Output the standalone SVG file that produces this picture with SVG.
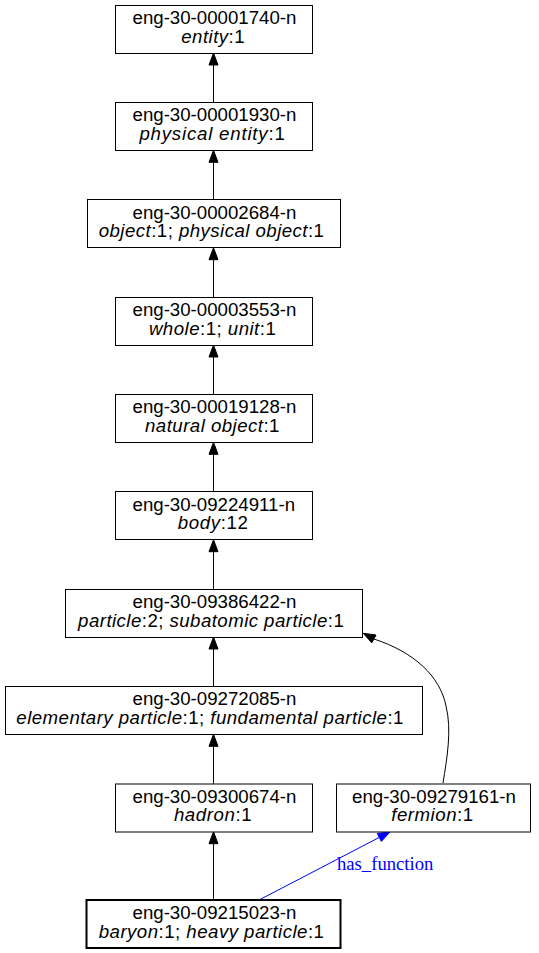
<svg xmlns="http://www.w3.org/2000/svg" width="539" height="953" viewBox="0 0 539 953">
<style>
.box{fill:#fff;stroke:#000;stroke-width:1}
.bold{stroke-width:2}
text{font-family:"Liberation Sans",Arial,sans-serif;font-size:18.67px;fill:#000}
.i{font-style:italic}
.e{stroke:#000;stroke-width:1;fill:none}
.ah{fill:#000;stroke:#000;stroke-width:1}
.blue{stroke:#0000ff}
.bah{fill:#0000ff;stroke:#0000ff;stroke-width:1}
.lbl{font-family:"Liberation Serif","Times New Roman",serif;fill:#0000ff}
</style>
<rect width="539" height="953" fill="#fff"/>
<g id="connectors">
<path class="e" d="M213.5,102.3V65"/><polygon class="ah" points="213.5,53 209,65 218,65"/>
<path class="e" d="M213.5,199.7V162.3"/><polygon class="ah" points="213.5,150.3 209,162.3 218,162.3"/>
<path class="e" d="M213.5,297V259.7"/><polygon class="ah" points="213.5,247.7 209,259.7 218,259.7"/>
<path class="e" d="M213.5,394.3V357"/><polygon class="ah" points="213.5,345 209,357 218,357"/>
<path class="e" d="M213.5,491.7V454.3"/><polygon class="ah" points="213.5,442.3 209,454.3 218,454.3"/>
<path class="e" d="M213.5,589V551.7"/><polygon class="ah" points="213.5,539.7 209,551.7 218,551.7"/>
<path class="e" d="M213.5,686.3V649"/><polygon class="ah" points="213.5,637 209,649 218,649"/>
<path class="e" d="M213.5,783.7V746.3"/><polygon class="ah" points="213.5,734.3 209,746.3 218,746.3"/>
<path class="e" d="M213.5,900V843.7"/><polygon class="ah" points="213.5,831.7 209,843.7 218,843.7"/>
<path class="e" d="M443,783 C447,758 452,730 446,706 C440,676 414,652 373.9,639"/><polygon class="ah" points="363.3,633.3 376,635 371.8,642.9"/>
<path class="e blue" d="M259,900 L379.3,837.4"/><polygon class="bah" points="390,832 381.3,841.4 377.3,833.4"/>
<text class="lbl" x="337" y="870">has_function</text>
</g>
<g id="n00001740">
<rect class="box" x="115.5" y="5.5" width="197" height="48"/>
<text x="132.5" y="24">eng-30-00001740-n</text>
<text x="181.2" y="42.5" textLength="63.4" lengthAdjust="spacing"><tspan class="i">entity</tspan>:1</text>
</g>
<g id="n00001930">
<rect class="box" x="115.5" y="102.5" width="197" height="48"/>
<text x="132.5" y="121.3">eng-30-00001930-n</text>
<text x="139.4" y="139.8" textLength="145.4" lengthAdjust="spacing"><tspan class="i">physical entity</tspan>:1</text>
</g>
<g id="n00002684">
<rect class="box" x="87.5" y="199.5" width="253" height="48"/>
<text x="132.5" y="218.7">eng-30-00002684-n</text>
<text x="98.7" y="237.2" textLength="225.3" lengthAdjust="spacing"><tspan class="i">object</tspan>:1; <tspan class="i">physical object</tspan>:1</text>
</g>
<g id="n00003553">
<rect class="box" x="115.5" y="297.5" width="197" height="48"/>
<text x="132.5" y="316">eng-30-00003553-n</text>
<text x="148.9" y="334.5" textLength="126.9" lengthAdjust="spacing"><tspan class="i">whole</tspan>:1; <tspan class="i">unit</tspan>:1</text>
</g>
<g id="n00019128">
<rect class="box" x="115.5" y="394.5" width="197" height="48"/>
<text x="132.5" y="413.3">eng-30-00019128-n</text>
<text x="145" y="431.8" textLength="134.5" lengthAdjust="spacing"><tspan class="i">natural object</tspan>:1</text>
</g>
<g id="n09224911">
<rect class="box" x="115.5" y="491.5" width="197" height="48"/>
<text x="132.5" y="510.7">eng-30-09224911-n</text>
<text x="177.8" y="529.2" textLength="70" lengthAdjust="spacing"><tspan class="i">body</tspan>:12</text>
</g>
<g id="n09386422">
<rect class="box" x="65.5" y="589.5" width="297" height="48"/>
<text x="132.5" y="608">eng-30-09386422-n</text>
<text x="78.1" y="626.5" textLength="265.7" lengthAdjust="spacing"><tspan class="i">particle</tspan>:2; <tspan class="i">subatomic particle</tspan>:1</text>
</g>
<g id="n09272085">
<rect class="box" x="5.5" y="686.5" width="417" height="48"/>
<text x="132.5" y="705.3">eng-30-09272085-n</text>
<text x="16.3" y="723.8" textLength="387.1" lengthAdjust="spacing"><tspan class="i">elementary particle</tspan>:1; <tspan class="i">fundamental particle</tspan>:1</text>
</g>
<g id="n09300674">
<rect class="box" x="115.5" y="784" width="197" height="48"/>
<text x="132.5" y="802.7">eng-30-09300674-n</text>
<text x="173.9" y="821.2" textLength="77.7" lengthAdjust="spacing"><tspan class="i">hadron</tspan>:1</text>
</g>
<g id="n09279161">
<rect class="box" x="336.5" y="784" width="194" height="48"/>
<text x="352" y="802.7">eng-30-09279161-n</text>
<text x="391.2" y="821.2" textLength="82" lengthAdjust="spacing"><tspan class="i">fermion</tspan>:1</text>
</g>
<g id="n09215023">
<rect class="box bold" x="86.5" y="900" width="254" height="48"/>
<text x="132.5" y="919">eng-30-09215023-n</text>
<text x="98.7" y="937.5" textLength="225.3" lengthAdjust="spacing"><tspan class="i">baryon</tspan>:1; <tspan class="i">heavy particle</tspan>:1</text>
</g>
</svg>
